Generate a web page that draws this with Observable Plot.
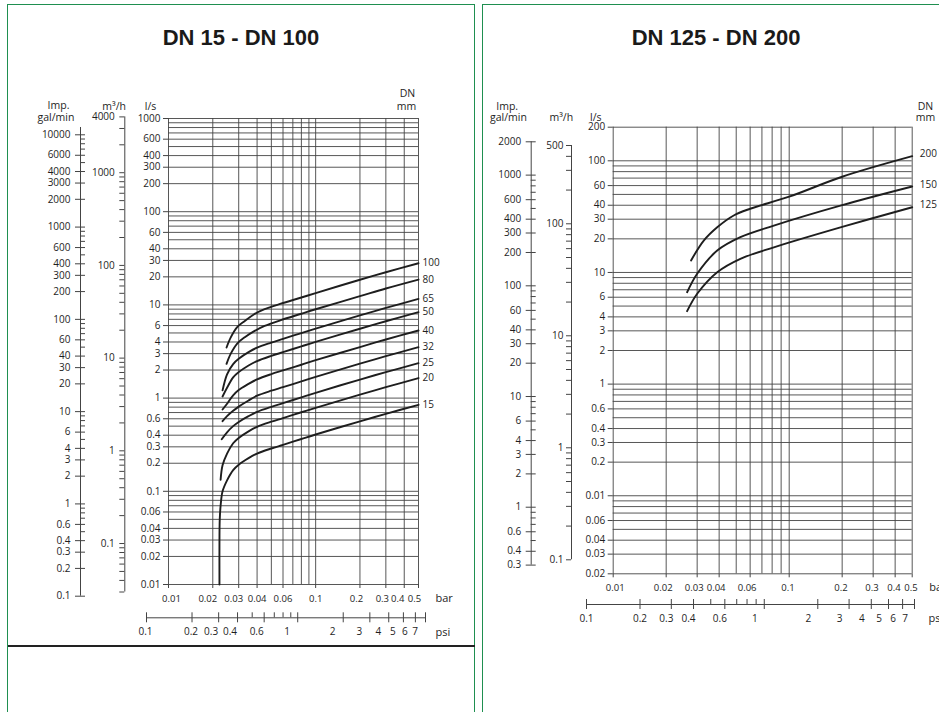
<!DOCTYPE html>
<html><head><meta charset="utf-8">
<script src="https://cdn.jsdelivr.net/npm/d3@7"></script>
<script src="https://cdn.jsdelivr.net/npm/@observablehq/plot@0.6"></script>
<style>
html,body{margin:0;padding:0;background:#fff;overflow:hidden;}
#page{position:relative;width:939px;height:712px;overflow:hidden;background:#fff;}
#page svg{position:absolute;left:0;top:0;}
.panel{position:absolute;border:1.5px solid #1f8f50;box-sizing:border-box;}
.title{position:absolute;font:bold 22px "Liberation Sans",Arial,sans-serif;line-height:1;color:#1a1a1a;text-align:center;white-space:nowrap;}
</style></head><body><div id="page"></div>
<script>
// ---------------- shared tick values ----------------
const barTickValues = [0.01,0.02,0.03,0.04,0.06,0.1,0.2,0.3,0.4,0.5];
const psiTickValues = [0.1,0.2,0.3,0.4,0.5,0.6,0.7,0.8,0.9,1,2,3,4,5,6,7];
const psiLabelsA = [0.1,0.2];
const psiLabelsB = [0.3,0.4,0.6];
const psiLabelsC = [1,2,3,4,5,6,7];

// ---------------- left panel: DN 15 - DN 100 ----------------
const leftLsTicks = [1000,600,400,300,200,100,60,40,30,20,10,6,4,3,2,1,0.6,0.4,0.3,0.2,0.1,0.06,0.04,0.03,0.02,0.01];
const leftGalTicks = [10000,6000,4000,3000,2000,1000,600,400,300,200,100,60,40,30,20,10,6,4,3,2,1,0.6,0.4,0.3,0.2,0.1];
const leftM3hTicks = [4000,1000,100,10,1,0.1];
const leftDN = [15,20,25,32,40,50,65,80,100];
const dn15Bar  = [0.0222,0.0222,0.0223,0.0226,0.0233,0.025,0.0275,0.03,0.035,0.04,0.05,0.06,0.08,0.1,0.2,0.3,0.5];
const dn15Flow = [0.01,0.03,0.05,0.07,0.1,0.131,0.169,0.193,0.227,0.254,0.288,0.315,0.364,0.407,0.563,0.678,0.847];
const dn20Bar  = [0.0226,0.0233,0.025,0.0275,0.03,0.035,0.04,0.05,0.06,0.08,0.1,0.2,0.3,0.5];
const dn20Flow = [0.133,0.19,0.254,0.328,0.374,0.44,0.492,0.558,0.61,0.705,0.787,1.09,1.31,1.64];
const dn25Bar  = [0.023,0.025,0.0275,0.03,0.035,0.04,0.05,0.06,0.08,0.1,0.2,0.3,0.5];
const dn25Flow = [0.362,0.43,0.5,0.555,0.64,0.711,0.806,0.882,1.02,1.14,1.58,1.9,2.37];
const dn32Bar  = [0.0233,0.025,0.0275,0.03,0.035,0.04,0.05,0.06,0.08,0.1,0.2,0.3,0.5];
const dn32Flow = [0.565,0.64,0.73,0.81,0.943,1.06,1.2,1.31,1.51,1.69,2.34,2.82,3.52];
const dn40Bar  = [0.0233,0.025,0.0275,0.03,0.035,0.04,0.05,0.06,0.08,0.1,0.2,0.3,0.5];
const dn40Flow = [0.755,0.87,1.07,1.22,1.42,1.59,1.81,1.98,2.28,2.55,3.53,4.25,5.31];
const dn50Bar  = [0.0233,0.025,0.0275,0.03,0.035,0.04,0.05,0.06,0.08,0.1,0.2,0.3,0.5];
const dn50Flow = [1.04,1.29,1.67,1.9,2.24,2.5,2.84,3.11,3.59,4.01,5.55,6.68,8.35];
const dn65Bar  = [0.0233,0.025,0.0275,0.03,0.035,0.04,0.05,0.06,0.08,0.1,0.2,0.3,0.5];
const dn65Flow = [1.21,1.8,2.32,2.64,3.11,3.48,3.94,4.32,4.99,5.57,7.71,9.28,11.6];
const dn80Bar  = [0.0248,0.0265,0.0293,0.033,0.038,0.045,0.058,0.08,0.1,0.2,0.3,0.5];
const dn80Flow = [2.33,3.0,3.85,4.5,5.2,5.95,6.86,8.04,8.98,12.4,15.0,18.7];
const dn100Bar  = [0.0248,0.0265,0.0293,0.033,0.038,0.045,0.058,0.08,0.1,0.2,0.3,0.5];
const dn100Flow = [3.49,4.48,5.77,6.72,7.9,9.0,10.3,12.0,13.4,18.6,22.4,28.0];

// ---------------- right panel: DN 125 - DN 200 ----------------
const rightLsTicks = [200,100,60,40,30,20,10,6,4,3,2,1,0.6,0.4,0.3,0.2,0.1,0.06,0.04,0.03,0.02];
const rightLsTickLabels = ["200","100","60","40","30","20","10","6","4","3","2","1","0.6","0.4","0.3","0.2","0.01","0.06","0.04","0.03","0.02"];
const rightGalTicks = [2000,1000,600,400,300,200,100,60,40,30,20,10,6,4,3,2,1,0.6,0.4,0.3];
const rightM3hTicks = [500,100,10,1,0.1];
const rightDN = [125,150,200];
const dn125Bar  = [0.0263,0.03,0.039,0.0528,0.0818,0.2,0.5];
const dn125Flow = [4.5,6.44,10.05,13.25,16.8,25.6,38.4];
const dn150Bar  = [0.0263,0.03,0.039,0.0528,0.0818,0.2,0.5];
const dn150Flow = [6.65,9.73,15.7,20.7,26.3,40.1,58.9];
const dn200Bar  = [0.0277,0.0327,0.039,0.0484,0.06,0.1,0.2,0.5];
const dn200Flow = [12.8,19.3,25.4,32.4,37.2,47.7,72.0,110];

// ---------------- helpers ----------------
const W = 939, H = 712;
const FONT = '"Open Sans","DejaVu Sans",sans-serif';
const INK = "#1e1e1e", GRID = "#444";
const HDR = 10.5;
const page = document.getElementById("page");
const add = p => page.appendChild(p);
const styleT = {background:"transparent", fontFamily:FONT, fontSize:"10px", color:INK, overflow:"visible"};
const fmt = d => String(d);

function logValues(lo, hi) {
  const out = [];
  for (let e = Math.floor(Math.log10(lo)) - 1; e <= Math.ceil(Math.log10(hi)); e++)
    for (let m = 1; m < 10; m++) {
      const v = +(m * Math.pow(10, e)).toPrecision(6);
      if (v >= lo * 0.9999 && v <= hi * 1.0001) out.push(v);
    }
  return out;
}
function buildRows(dns, bars, flows) {
  return dns.flatMap((dn, i) => bars[i].map((b, j) => ({dn, bar: b, flow: flows[i][j]})));
}
function buildEnds(dns, bars, flows) {
  return dns.map((dn, i) => ({dn, bar: bars[i][bars[i].length - 1], flow: flows[i][flows[i].length - 1]}));
}
function hdr(text, cx, base, fl, ft) {
  return Plot.text([text], {text: d => d, frameAnchor: "top-left", dx: cx - fl, dy: base - 0.32 * HDR - ft, textAnchor: "middle", fontSize: HDR});
}

function mainPanel(o) {
  const y0 = o.yDomain[0];
  return Plot.plot({
    width: W, height: H,
    marginLeft: o.left, marginRight: W - o.right, marginTop: o.top, marginBottom: H - o.bottom,
    style: styleT,
    x: {type: "log", domain: [0.01, 0.5], axis: null},
    y: {type: "log", domain: o.yDomain, axis: null},
    marks: [
      Plot.ruleY(logValues(o.yDomain[0], o.yDomain[1]), {y: d => d, x1: 0.01, x2: 0.5, stroke: GRID, strokeWidth: 0.9}),
      Plot.ruleX(logValues(0.01, 0.5), {x: d => d, y1: o.yDomain[0], y2: o.yDomain[1], stroke: GRID, strokeWidth: 0.9}),
      // y ticks and labels
      Plot.ruleY(o.yTicks, {y: d => d, x1: 0.01, x2: 0.01, insetLeft: -5, stroke: GRID}),
      Plot.text(o.yTicks, {y: d => d, x: 0.01, text: o.yFormat, textAnchor: "end", dx: -8}),
      // x ticks and labels
      Plot.ruleX(barTickValues, {x: d => d, y1: y0, y2: y0, insetBottom: -4, stroke: GRID}),
      ...o.xGroups.map(([vals, dx]) => Plot.text(vals, {x: d => d, y: y0, text: fmt, dy: 14, dx, fontSize: 9.5})),
      // curves
      Plot.line(o.rows, {x: "bar", y: "flow", z: "dn", curve: "catmull-rom", stroke: INK, strokeWidth: 1.9}),
      Plot.text(o.ends, {x: "bar", y: "flow", text: d => String(d.dn), textAnchor: "start", dx: o.dnDx, dy: o.dnDy}),
      Plot.text(["bar"], {text: d => d, x: 0.5, y: y0, textAnchor: "start", dx: 17, dy: 14, fontSize: 11}),
      ...o.headers
    ]
  });
}
function galAxis(o) {
  const minor = logValues(o.yDomain[0], o.yDomain[1]).filter(v => !o.labels.includes(v));
  return Plot.plot({
    width: W, height: H, margin: 0, style: styleT,
    x: {domain: [-1, 1], range: [o.axisX - 5, o.axisX + 5], axis: null},
    y: {type: "log", domain: o.yDomain, range: o.yRange, axis: null},
    marks: [
      Plot.ruleX([0], {x: d => d, y1: o.yDomain[0], y2: o.lineTop, stroke: GRID}),
      Plot.ruleY(o.labels, {y: d => d, x1: -1, x2: 1, stroke: GRID}),
      Plot.ruleY(minor, {y: d => d, x1: 0, x2: 1, stroke: GRID}),
      Plot.text(o.labels, {x: -1, y: d => d, text: fmt, textAnchor: "end", dx: -5})
    ]
  });
}
function m3hAxis(o) {
  return Plot.plot({
    width: W, height: H, margin: 0, style: styleT,
    x: {domain: [-1, 0], range: [o.axisX - 5, o.axisX], axis: null},
    y: {type: "log", domain: o.yDomain, range: o.yRange, axis: null},
    marks: [
      Plot.ruleX([0], {x: d => d, y1: o.yDomain[0], y2: o.yDomain[1], stroke: GRID}),
      Plot.ruleY(logValues(o.yDomain[0], o.yDomain[1]), {y: d => d, x1: -1, x2: 0, stroke: GRID}),
      Plot.text(o.labels, {x: -1, y: d => d, text: fmt, textAnchor: "end", dx: o.labelDx})
    ]
  });
}
function psiAxis(o) {
  const labels = [...psiLabelsA, ...psiLabelsB, ...psiLabelsC];
  const minor = psiTickValues.filter(v => !labels.includes(v));
  return Plot.plot({
    width: W, height: H, margin: 0, style: styleT,
    x: {type: "log", domain: [0.1, 7], range: o.xRange, axis: null},
    y: {domain: [-1, 1], range: [o.yc + 5, o.yc - 5], axis: null},
    marks: [
      Plot.ruleY([0], {y: d => d, x1: 0.1, x2: 7, stroke: GRID}),
      Plot.ruleX(labels, {x: d => d, y1: -1, y2: 1, stroke: GRID}),
      Plot.ruleX(minor, {x: d => d, y1: 0, y2: 1, stroke: GRID}),
      Plot.text(psiLabelsA, {x: d => d, y: -1, text: fmt, dy: o.labelDy, dx: o.dxA}),
      Plot.text(psiLabelsB, {x: d => d, y: -1, text: fmt, dy: o.labelDy, dx: o.dxB}),
      Plot.text(psiLabelsC, {x: d => d, y: -1, text: fmt, dy: o.labelDy, dx: o.dxC}),
      Plot.text(["psi"], {x: 7, y: -1, text: d => d, dy: o.labelDy, dx: o.psiDx, textAnchor: "start", fontSize: 11})
    ]
  });
}

// ---------------- decorations (panel frames, titles) ----------------
function div(cls, css, text) {
  const d = document.createElement("div");
  d.className = cls; d.style.cssText = css; if (text) d.textContent = text;
  page.appendChild(d);
}
div("panel", "left:7px;top:4px;width:468px;height:760px;");
div("panel", "left:482px;top:4px;width:520px;height:760px;");
div("", "position:absolute;left:8px;top:645px;width:467px;height:2px;background:#222;");
div("title", "left:91px;width:300px;top:27px;", "DN 15 - DN 100");
div("title", "left:566px;width:300px;top:27px;", "DN 125 - DN 200");

// ---------------- left panel ----------------
const leftBars = [dn15Bar,dn20Bar,dn25Bar,dn32Bar,dn40Bar,dn50Bar,dn65Bar,dn80Bar,dn100Bar];
const leftFlows = [dn15Flow,dn20Flow,dn25Flow,dn32Flow,dn40Flow,dn50Flow,dn65Flow,dn80Flow,dn100Flow];
const LF = {left: 168, right: 418, top: 118, bottom: 584};
add(mainPanel({
  ...LF, yDomain: [0.01, 1000], yTicks: leftLsTicks, yFormat: fmt,
  xGroups: [[[0.01], 3], [[0.02, 0.03], -5], [[0.04, 0.06, 0.1], 0], [[0.2, 0.3], -3.5], [[0.4], -6.5], [[0.5], -4]],
  rows: buildRows(leftDN, leftBars, leftFlows), ends: buildEnds(leftDN, leftBars, leftFlows),
  dnDx: 4, dnDy: 0,
  headers: [
    hdr("Imp.", 58, 104.5, LF.left, LF.top), hdr("gal/min", 55.5, 116.7, LF.left, LF.top),
    hdr("m³/h", 113.7, 105, LF.left, LF.top), hdr("l/s", 150, 105, LF.left, LF.top),
    hdr("DN", 407, 92.7, LF.left, LF.top), hdr("mm", 406, 105, LF.left, LF.top)
  ]
}));
add(galAxis({axisX: 80, yDomain: [0.1, 10000], yRange: [595.7, 134.3], lineTop: 12000, labels: leftGalTicks}));
add(m3hAxis({axisX: 124.3, yDomain: [0.03, 4000], yRange: [591.5, 116.4], labels: leftM3hTicks, labelDx: -5}));
add(psiAxis({xRange: [146, 425], yc: 617.3, labelDy: 9.4, dxA: -1, dxB: -7.5, dxC: -10.5, psiDx: 10}));

// ---------------- right panel ----------------
const rightBars = [dn125Bar,dn150Bar,dn200Bar];
const rightFlows = [dn125Flow,dn150Flow,dn200Flow];
const rightLabelMap = new Map(rightLsTicks.map((v, i) => [v, rightLsTickLabels[i]]));
const RF = {left: 612.7, right: 911.7, top: 126.7, bottom: 573.3};
add(mainPanel({
  ...RF, yDomain: [0.02, 200], yTicks: rightLsTicks, yFormat: d => rightLabelMap.get(d),
  xGroups: [[[0.01], 2], [[0.02, 0.03, 0.04, 0.06], -3], [[0.1, 0.2, 0.3, 0.4, 0.5], -1.2]],
  rows: buildRows(rightDN, rightBars, rightFlows), ends: buildEnds(rightDN, rightBars, rightFlows),
  dnDx: 7.5, dnDy: -2,
  headers: [
    hdr("Imp.", 506.7, 105, RF.left, RF.top), hdr("gal/min", 508, 116.7, RF.left, RF.top),
    hdr("m³/h", 560.8, 116.7, RF.left, RF.top), hdr("l/s", 595.3, 116, RF.left, RF.top),
    hdr("DN", 925, 105, RF.left, RF.top), hdr("mm", 925, 116.7, RF.left, RF.top)
  ]
}));
add(galAxis({axisX: 530.7, yDomain: [0.3, 2000], yRange: [564.6, 141.3], lineTop: 2000, labels: rightGalTicks}));
add(m3hAxis({axisX: 571, yDomain: [0.1, 500], yRange: [559.3, 145], labels: rightM3hTicks, labelDx: -3}));
add(psiAxis({xRange: [586, 914], yc: 604, labelDy: 8.8, dxA: 0, dxB: -5, dxC: -9.5, psiDx: 14}));
</script></body></html>
